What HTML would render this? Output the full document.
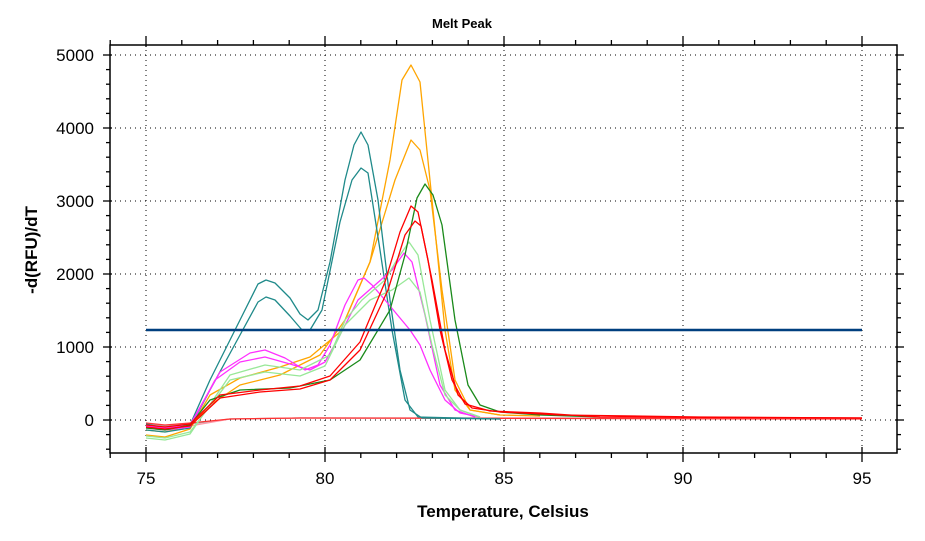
<!DOCTYPE html>
<html><head><meta charset="utf-8"><style>
body{margin:0;background:#fff;}
svg text{font-family:"Liberation Sans",sans-serif;}
</style></head><body>
<svg width="925" height="536" viewBox="0 0 925 536" xmlns="http://www.w3.org/2000/svg">
<rect width="925" height="536" fill="#fff"/>
<text x="462" y="28" text-anchor="middle" font-size="13" font-weight="bold">Melt Peak</text>
<g stroke="#000" stroke-dasharray="1,4" stroke-width="1">
<line x1="110" y1="55" x2="897" y2="55"/><line x1="110" y1="128" x2="897" y2="128"/>
<line x1="110" y1="201" x2="897" y2="201"/><line x1="110" y1="274" x2="897" y2="274"/>
<line x1="110" y1="347" x2="897" y2="347"/><line x1="110" y1="420" x2="897" y2="420"/>
<line x1="146" y1="45" x2="146" y2="453"/><line x1="325" y1="45" x2="325" y2="453"/>
<line x1="504" y1="45" x2="504" y2="453"/><line x1="683" y1="45" x2="683" y2="453"/>
<line x1="862" y1="45" x2="862" y2="453"/>
</g>
<g id="curves" fill="none" stroke-width="1.3" stroke-linejoin="round">
<polyline stroke="#aaa" points="146,424 165,426 190,424 230,419 300,418 862,418"/>
<polyline stroke="#f9a" points="146,426 165,428 190,426 230,419 300,418 862,418"/>
<polyline stroke="#f33" points="146,423 165,425 190,423 230,419 300,418 862,419"/>
<polyline stroke="#ffa500" points="146,435 165,437 190,429 210,395 240,378 280,367 310,357 340,332 370,262 390,160 402,80 411,65 420,82 432,200 445,330 455,390 470,410 500,415 540,416"/>
<polyline stroke="#ffa500" points="146,430 165,432 190,426 210,405 240,385 280,375 320,355 345,320 370,262 395,180 411,140 420,150 430,190 442,290 455,380 470,410 500,415"/>
<polyline stroke="#1f8a8a" points="146,424 165,428 190,425 210,380 240,320 258,284 266,280 275,283 290,298 300,314 308,320 318,310 330,262 345,180 354,145 361,132 368,145 378,200 390,300 400,370 410,410 422,418 500,419"/>
<polyline stroke="#1f8a8a" points="146,430 165,432 190,428 210,390 240,335 258,302 266,297 275,300 290,316 302,330 310,330 322,310 340,222 352,180 361,168 368,173 380,250 392,330 405,400 418,417 500,419"/>
<polyline stroke="#ff30ff" points="146,426 165,428 190,425 220,372 250,353 265,350 285,358 305,370 318,365 330,345 345,305 358,280 364,278 372,285 385,300 400,318 410,330 420,345 430,370 445,400 460,413 480,417"/>
<polyline stroke="#ff30ff" points="146,428 165,430 190,427 215,380 240,362 265,357 290,364 310,370 325,362 340,335 358,300 375,285 392,270 404,253 412,262 425,315 440,385 455,410 475,417"/>
<polyline stroke="#98e898" points="146,438 165,440 190,434 230,375 265,365 300,370 330,355 345,320 362,300 385,280 398,258 409,242 418,255 430,320 445,390 460,410 480,417"/>
<polyline stroke="#98e898" points="146,436 165,438 190,432 230,380 265,372 300,376 325,366 345,325 370,300 392,290 409,278 420,292 432,345 445,395 460,410 480,417"/>
<polyline stroke="#1a8a1a" points="146,428 165,430 190,425 210,400 240,390 290,388 330,380 360,360 390,310 405,255 417,198 425,184 433,195 442,225 455,320 468,385 480,405 500,412 540,415 600,417"/>
<polyline stroke="#f00" points="146,425 165,427 190,424 220,395 260,390 300,386 330,376 360,342 385,282 400,232 411,206 418,212 428,260 440,330 452,380 465,404 490,411 540,413 600,417 862,418"/>
<polyline stroke="#f00" points="146,427 165,429 190,426 220,398 260,392 300,389 330,380 360,350 388,290 405,235 415,221 421,226 432,280 445,350 458,395 472,408 500,412 560,415 700,417 862,418"/>
</g>
<line x1="146" y1="330" x2="862" y2="330" stroke="#003f7f" stroke-width="2.5"/>
<rect x="110" y="45" width="787" height="408" fill="none" stroke="#000" stroke-width="1.5"/>
<g stroke="#000" stroke-width="1.3" id="ticks"></g>
<g font-size="17" text-anchor="end">
<text x="94" y="61">5000</text><text x="94" y="134">4000</text><text x="94" y="207">3000</text>
<text x="94" y="280">2000</text><text x="94" y="353">1000</text><text x="94" y="426">0</text>
</g>
<g font-size="17" text-anchor="middle">
<text x="146" y="484">75</text><text x="325" y="484">80</text><text x="504" y="484">85</text>
<text x="683" y="484">90</text><text x="862" y="484">95</text>
</g>
<text x="503" y="517" text-anchor="middle" font-size="17" font-weight="bold">Temperature, Celsius</text>
<text transform="translate(37,250) rotate(-90)" text-anchor="middle" font-size="17" font-weight="bold">-d(RFU)/dT</text>
</svg>
<script>
var g=document.getElementById('ticks'),s='';
for(var v=-400;v<=5000;v+=200){var y=420-v*0.073;var L=(v%1000==0)?7:4;s+='<line x1="'+(110-L)+'" y1="'+y+'" x2="'+(110+(v%1000==0?2:0))+'" y2="'+y+'"/><line x1="'+(897-(v%1000==0?2:0))+'" y1="'+y+'" x2="'+(897+L)+'" y2="'+y+'"/>';}
for(var t=74;t<=96;t++){var x=146+(t-75)*35.8;if(x<110||x>897)continue;var L=(t%5==0)?9:5;s+='<line x1="'+x+'" y1="'+(453-(t%5==0?6:0))+'" x2="'+x+'" y2="'+(453+L)+'"/><line x1="'+x+'" y1="'+(45-L)+'" x2="'+x+'" y2="'+(45+(t%5==0?2:0))+'"/>';}
g.innerHTML=s;
</script>
</body></html>
